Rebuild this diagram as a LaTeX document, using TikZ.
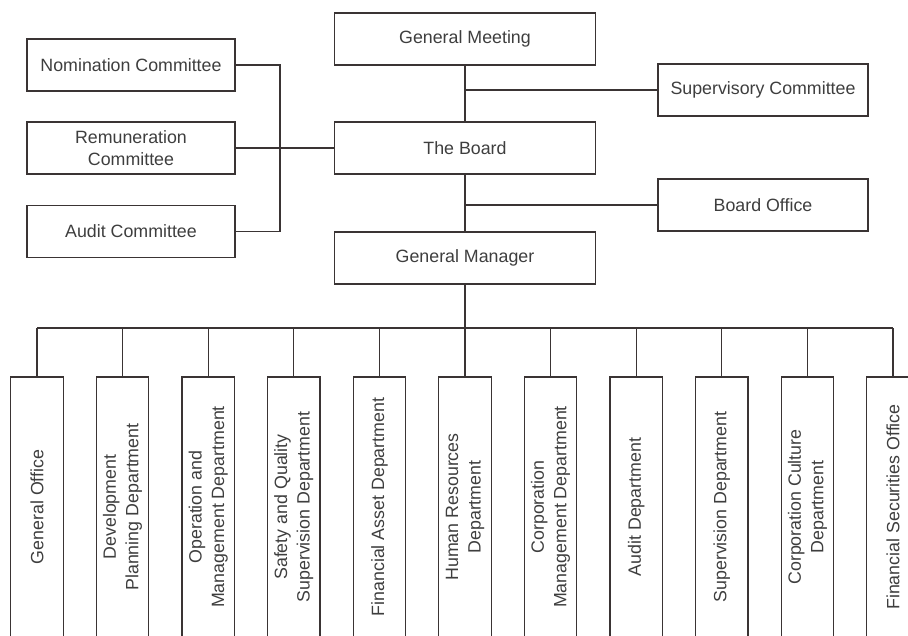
\documentclass[tikz,border=0pt]{standalone}
\usepackage{fontspec}
\setmainfont{Liberation Sans}
\definecolor{linecol}{RGB}{58,52,52}
\definecolor{textcol}{RGB}{62,62,62}
\tikzset{
  box/.style={draw=linecol, line width=1.2pt, inner sep=0pt, align=center,
    text=textcol, font=\fontsize{17.8}{22.5}\selectfont},
  midbox/.style={box, minimum width=261.5pt, minimum height=52pt},
  sidebox/.style={box, minimum width=208pt, minimum height=52pt},
  dept/.style={box, rotate=90, minimum width=260pt, minimum height=52.5pt},
  conn/.style={draw=linecol, line width=1.2pt}
}
\begin{document}
\begin{tikzpicture}[x=1pt,y=-1pt]
\useasboundingbox (0,0) rectangle (908,635);
\clip (0,0) rectangle (908,635);
% centre column
\node[midbox] (gm)   at (465,39)  {General Meeting};
\node[midbox] (board) at (465,148) {The Board};
\node[midbox] (gmgr) at (465,258) {General Manager};
% right side
\node[box, minimum width=210pt, minimum height=52pt] (sup) at (763,90) {Supervisory Committee};
\node[box, minimum width=210pt, minimum height=52pt] (bo)  at (763,205) {Board Office};
% left committees
\node[sidebox] (nom) at (131,65)    {Nomination Committee};
\node[sidebox] (rem) at (131,148)   {Remuneration\\Committee};
\node[sidebox] (aud) at (131,231.5) {Audit Committee};
\coordinate (bk) at (280,148);
% departments
\node[dept] (d1)  at (37,507)    {General Office};
\node[dept] (d2)  at (122.6,507) {Development\\Planning Department};
\node[dept] (d3)  at (208.2,507) {Operation and\\Management Department};
\node[dept] (d4)  at (293.8,507) {Safety and Quality\\Supervision Department};
\node[dept] (d5)  at (379.4,507) {Financial Asset Department};
\node[dept] (d6)  at (465,507)   {Human Resources\\Department};
\node[dept] (d7)  at (550.6,507) {Corporation\\Management Department};
\node[dept] (d8)  at (636.2,507) {Audit Department};
\node[dept] (d9)  at (721.8,507) {Supervision Department};
\node[dept] (d10) at (807.4,507) {Corporation Culture\\Department};
\node[dept] (d11) at (893,507)   {Financial Securities Office};
\coordinate (bus) at (465,328);
% connectors
\draw[conn] (gm) -- (board);
\draw[conn] (board) -- (gmgr);
\draw[conn] (gm.south |- sup) -- (sup);
\draw[conn] (board.south |- bo) -- (bo);
\draw[conn] (nom.east) -| (bk |- aud) -- (aud.east);
\draw[conn] (rem) -- (board);
\draw[conn] (gmgr) -- (bus);
\draw[conn] (d1 |- bus) -- (d11 |- bus);
\foreach \d in {d1,d2,d3,d4,d5,d6,d7,d8,d9,d10,d11}
  \draw[conn] (\d |- bus) -- (\d);
\end{tikzpicture}
\end{document}
